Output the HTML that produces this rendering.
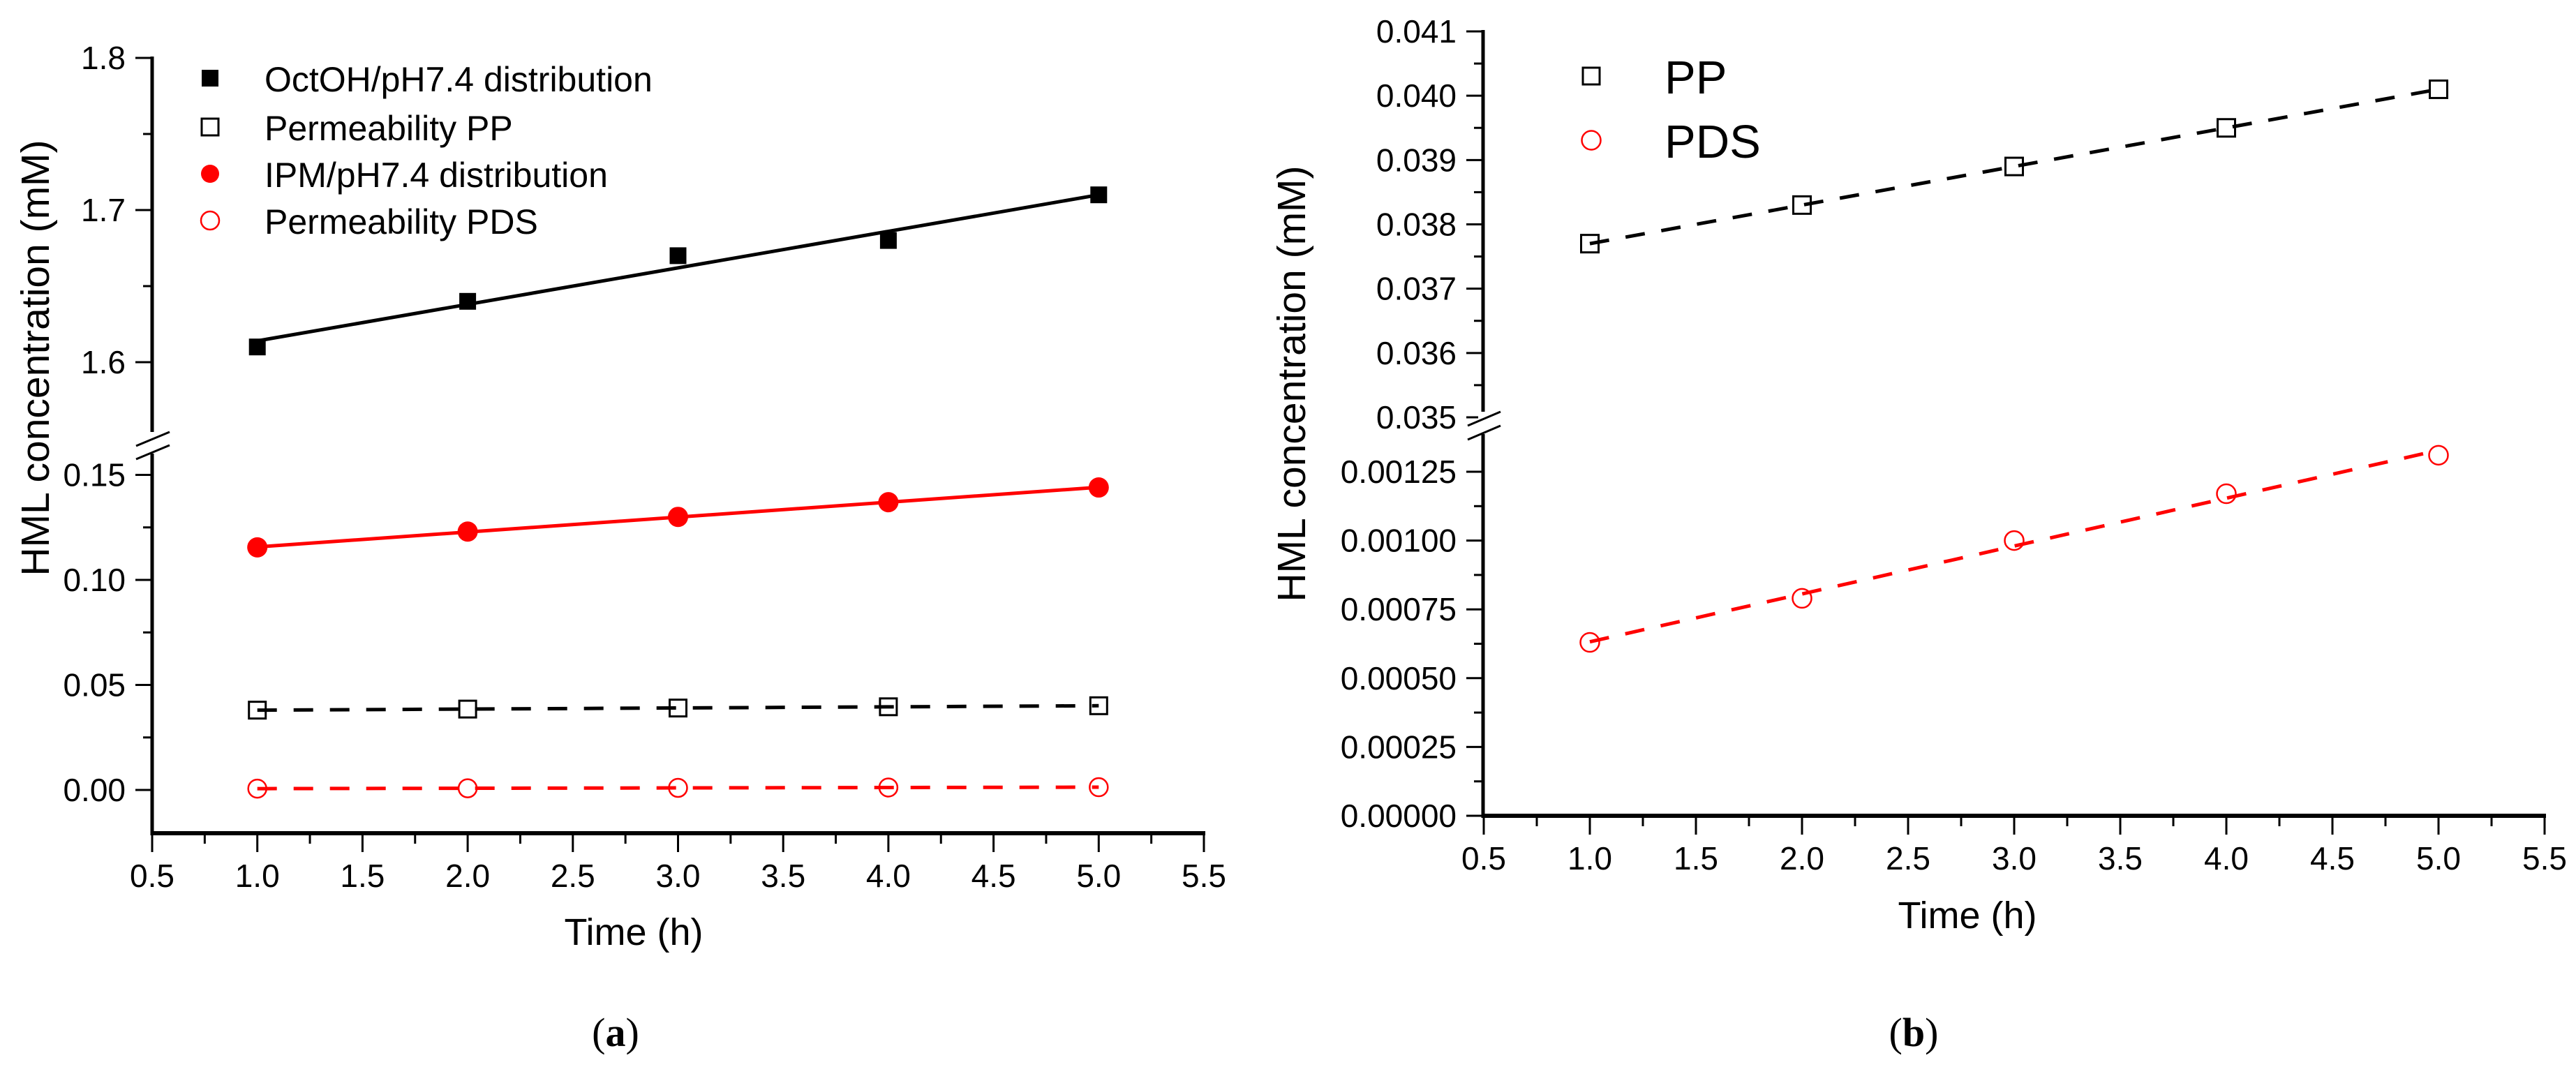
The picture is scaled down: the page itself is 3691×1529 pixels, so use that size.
<!DOCTYPE html>
<html><head><meta charset="utf-8"><style>
html,body{margin:0;padding:0;background:#fff;}
svg{display:block;font-family:"Liberation Sans",Arial,sans-serif;}
</style></head><body>
<svg id="fig" width="3691" height="1529" viewBox="0 0 3691 1529" xmlns="http://www.w3.org/2000/svg">
<g id="pa"></g>
<g id="pb"></g>
</svg>
<script>
// ---------- data ----------
const timeH = [1, 2, 3, 4, 5];
const octohDist = [1.61, 1.64, 1.67, 1.68, 1.71];
const ipmDist = [0.1155, 0.123, 0.130, 0.137, 0.144];
const permPP_a = [0.0380, 0.0385, 0.0390, 0.0396, 0.0401];
const permPDS_a = [0.00063, 0.00079, 0.00100, 0.00117, 0.00131];
const permPP_b = [0.0377, 0.0383, 0.0389, 0.0395, 0.0401];
const permPDS_b = [0.00063, 0.00079, 0.00100, 0.00117, 0.00131];
const xTicks = ["0.5","1.0","1.5","2.0","2.5","3.0","3.5","4.0","4.5","5.0","5.5"];
const aUpperTicks = ["1.6","1.7","1.8"];
const aLowerTicks = ["0.00","0.05","0.10","0.15"];
const bUpperTicks = ["0.035","0.036","0.037","0.038","0.039","0.040","0.041"];
const bLowerTicks = ["0.00000","0.00025","0.00050","0.00075","0.00100","0.00125"];

const NS = "http://www.w3.org/2000/svg";
function mk(parent, tag, attrs, text) {
  const e = document.createElementNS(NS, tag);
  for (const k in attrs) e.setAttribute(k, attrs[k]);
  if (text !== undefined) e.textContent = text;
  parent.appendChild(e);
  return e;
}
function fit(xs, ys) {
  const n = xs.length; let sx=0, sy=0, sxx=0, sxy=0;
  for (let i=0;i<n;i++){sx+=xs[i];sy+=ys[i];sxx+=xs[i]*xs[i];sxy+=xs[i]*ys[i];}
  const m = (n*sxy-sx*sy)/(n*sxx-sx*sx); const b = (sy-m*sx)/n;
  return x => m*x+b;
}
function marker(g, type, cx, cy, s, color) {
  let e;
  if (type === "fsq") e = mk(g, "rect", {x:cx-s/2, y:cy-s/2, width:s, height:s, fill:color});
  else if (type === "osq") e = mk(g, "rect", {x:cx-s/2, y:cy-s/2, width:s, height:s, fill:"none", stroke:color, "stroke-width":3});
  else if (type === "fci") e = mk(g, "ellipse", {cx:cx, cy:cy, rx:s/2, ry:s/2, fill:color});
  else e = mk(g, "ellipse", {cx:cx, cy:cy, rx:s/2, ry:s/2, fill:"none", stroke:color, "stroke-width":2.5});
  return e;
}
function series(g, name, xs, ys, X, Y, type, color, dashed, size) {
  const sg = mk(g, "g", {});
  
  
  const f = fit(xs, ys);
  const ln = mk(sg, "line", {x1:X(xs[0]), y1:Y(f(xs[0])), x2:X(xs[xs.length-1]), y2:Y(f(xs[xs.length-1])),
    stroke:color, "stroke-width":dashed?5:5, "stroke-dasharray":dashed?"28 24":"none"});
  
  
  for (let i=0;i<xs.length;i++){
    const m = marker(sg, type, X(xs[i]), Y(ys[i]), size, color);
    
    
  }
}
function xAxis(g, x0, x1, y, X) {
  const ax = mk(g, "g", {});
  
  
  mk(ax, "line", {x1:x0, y1:y, x2:x1+2, y2:y, stroke:"#000", "stroke-width":6});
  for (let i=0;i<xTicks.length;i++){
    const v = parseFloat(xTicks[i]);
    mk(ax, "line", {x1:X(v), y1:y, x2:X(v), y2:y+27, stroke:"#000", "stroke-width":3});
    if (i < xTicks.length-1) mk(ax, "line", {x1:X(v+0.25), y1:y, x2:X(v+0.25), y2:y+15, stroke:"#000", "stroke-width":3});
    const t = mk(ax, "text", {x:X(v), y:y+77, "font-size":46, "text-anchor":"middle"}, xTicks[i]);
    
    
  }
}
function yTicks(g, labels, Y, axX, minorStep, lastMinor) {
  for (let i=0;i<labels.length;i++){
    const v = parseFloat(labels[i]);
    mk(g, "line", {x1:axX-24, y1:Y(v), x2:axX, y2:Y(v), stroke:"#000", "stroke-width":3});
    if (i < labels.length-1 || lastMinor) mk(g, "line", {x1:axX-13, y1:Y(v+minorStep), x2:axX, y2:Y(v+minorStep), stroke:"#000", "stroke-width":3});
    const t = mk(g, "text", {x:axX-38, y:Y(v)+16, "font-size":46, "text-anchor":"end"}, labels[i]);
    
    
  }
}
function breakMarks(g, x1, x2, yA, yB, drop) {
  const b = mk(g, "g", {});
  
  
  mk(b, "rect", {x:x1+15, y:yA-drop/2, width:(x2-x1)-30, height:(yB-yA)+drop/2, fill:"#fff"});
  mk(b, "line", {x1:x1, y1:yA+drop/2, x2:x2, y2:yA-drop/2, stroke:"#000", "stroke-width":3});
  mk(b, "line", {x1:x1, y1:yB+drop/2, x2:x2, y2:yB-drop/2, stroke:"#000", "stroke-width":3});
}

// ---------- panel a ----------
(function(){
  const g = document.getElementById("pa");
  const X = v => 218 + (v-0.5)*301.4;
  const Yu = v => 519 - (v-1.6)*2180;
  const Yl = v => 1132 - v*3010;
  const axX = 218;
  mk(g, "line", {x1:axX, y1:Yu(1.8)-2, x2:axX, y2:632, stroke:"#000", "stroke-width":5});
  mk(g, "line", {x1:axX, y1:650, x2:axX, y2:1197, stroke:"#000", "stroke-width":5});
  yTicks(g, aUpperTicks, Yu, axX, 0.05, false);
  yTicks(g, aLowerTicks, Yl, axX, 0.025, false);
  mk(g, "line", {x1:axX-13, y1:Yl(0.175), x2:axX, y2:Yl(0.175), stroke:"#fff", "stroke-width":0});
  breakMarks(g, 195, 243, 629, 648, 20);
  xAxis(g, axX, 1725, 1194, X);
  series(g, "octoh-series", timeH, octohDist, X, Yu, "fsq", "#000", false, 24);
  series(g, "ipm-series", timeH, ipmDist, X, Yl, "fci", "#ff0000", false, 29);
  series(g, "pp-series", timeH, permPP_a, X, Yl, "osq", "#000", true, 24);
  series(g, "pds-series", timeH, permPDS_a, X, Yl, "oci", "#ff0000", true, 26);
  const yl = mk(g, "text", {x:0, y:0, "font-size":57, "text-anchor":"middle", transform:"translate(70,513) rotate(-90)"}, "HML concentration (mM)");
  
  
  const xl = mk(g, "text", {x:908, y:1354, "font-size":54, "text-anchor":"middle"}, "Time (h)");
  
  
  const cap = mk(g, "text", {x:882, y:1499, "font-size":58, "text-anchor":"middle", "font-family":"'Liberation Serif',serif"});
  
  
  mk(cap, "tspan", {}, "(");
  mk(cap, "tspan", {"font-weight":"bold"}, "a");
  mk(cap, "tspan", {}, ")");
  // legend
  const lg = mk(g, "g", {});
  
  
  const legTypes = ["fsq","osq","fci","oci"];
  const legColors = ["#000","#000","#ff0000","#ff0000"];
  const legLabels = ["OctOH/pH7.4 distribution","Permeability PP","IPM/pH7.4 distribution","Permeability PDS"];
  const legY = [112,182,249,316];
  for (let i=0;i<4;i++){
    const e = mk(lg, "g", {});
    
    
    marker(e, legTypes[i], 301, legY[i], i<2?24:26, legColors[i]);
    mk(e, "text", {x:379, y:legY[i]+19, "font-size":50}, legLabels[i]);
  }
})();

// ---------- panel b ----------
(function(){
  const g = document.getElementById("pb");
  const X = v => 2126 + (v-0.5)*304;
  const Yu = v => 598 - (v-0.035)*92170;
  const Yl = v => 1169 - v*394400;
  const axX = 2125;
  mk(g, "line", {x1:axX, y1:Yu(0.041)-2, x2:axX, y2:603, stroke:"#000", "stroke-width":5});
  mk(g, "line", {x1:axX, y1:622, x2:axX, y2:1172, stroke:"#000", "stroke-width":5});
  yTicks(g, bUpperTicks, Yu, axX, 0.0005, false);
  yTicks(g, bLowerTicks, Yl, axX, 0.000125, false);
  breakMarks(g, 2103, 2150, 600, 620, 20);
  xAxis(g, axX, 3646, 1169, X);
  series(g, "pp-series-b", timeH, permPP_b, X, Yu, "osq", "#000", true, 25);
  series(g, "pds-series-b", timeH, permPDS_b, X, Yl, "oci", "#ff0000", true, 27);
  const yl = mk(g, "text", {x:0, y:0, "font-size":57, "text-anchor":"middle", transform:"translate(1870,550) rotate(-90)"}, "HML concentration (mM)");
  
  
  const xl = mk(g, "text", {x:2819, y:1330, "font-size":54, "text-anchor":"middle"}, "Time (h)");
  
  
  const cap = mk(g, "text", {x:2742, y:1499, "font-size":58, "text-anchor":"middle", "font-family":"'Liberation Serif',serif"});
  
  
  mk(cap, "tspan", {}, "(");
  mk(cap, "tspan", {"font-weight":"bold"}, "b");
  mk(cap, "tspan", {}, ")");
  const lg = mk(g, "g", {});
  
  
  const legTypes = ["osq","oci"];
  const legColors = ["#000","#ff0000"];
  const legLabels = ["PP","PDS"];
  const legY = [109,201];
  for (let i=0;i<2;i++){
    const e = mk(lg, "g", {});
    
    
    marker(e, legTypes[i], 2280, legY[i], i==0?24:27, legColors[i]);
    mk(e, "text", {x:2385, y:legY[i]+25, "font-size":67}, legLabels[i]);
  }
})();
</script>
</body></html>
